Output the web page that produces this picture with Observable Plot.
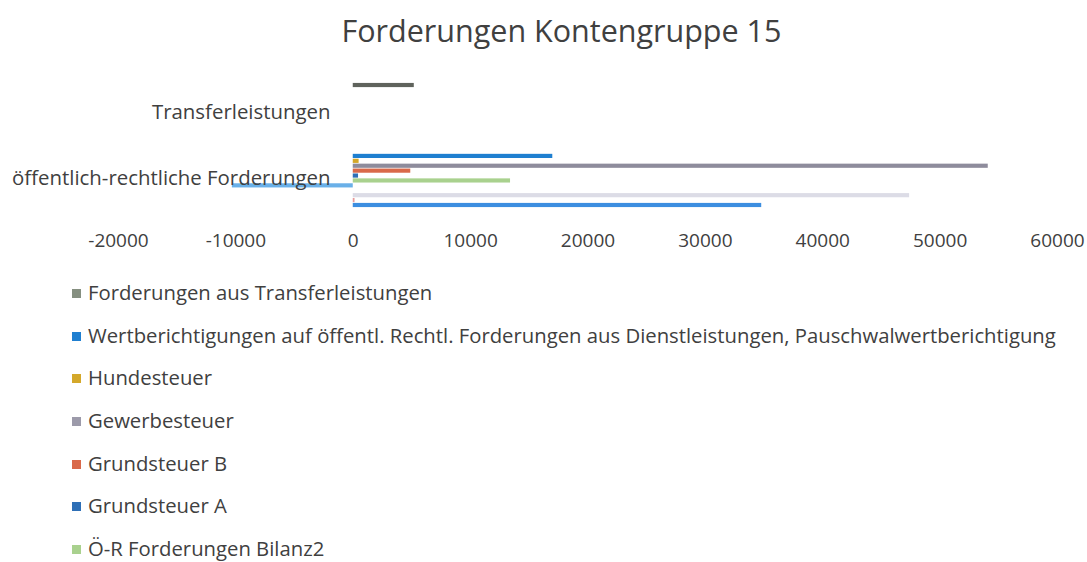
<!DOCTYPE html>
<html>
<head>
<meta charset="utf-8">
<script src="https://cdn.jsdelivr.net/npm/d3@7"></script>
<script src="https://cdn.jsdelivr.net/npm/@observablehq/plot@0.6"></script>
<style>
  html, body { margin: 0; padding: 0; background: #fff; }
  body { width: 1087px; height: 562px; overflow: hidden; font-family: "Open Sans", sans-serif; color: #404040; }
  #title { height: 60px; text-align: center; font-size: 30.5px; line-height: 60px; color: #404040; padding-left: 36px; box-sizing: border-box; }
  #legend { margin-top: 11px; padding-left: 72px; }
  .item { height: 42.7px; line-height: 42.7px; font-size: 20.3px; color: #404040; white-space: nowrap; }
  .sw { display: inline-block; width: 9px; height: 9px; margin-right: 7px; vertical-align: 2px; }
</style>
</head>
<body>
<div id="title">Forderungen Kontengruppe 15</div>
<div id="chart"></div>
<div id="legend"></div>
<script>
// Categories (bar groups)
const categories = ["Transferleistungen", "öffentlich-rechtliche Forderungen"];

// Series (legend in the reference is cut off after the 7th entry)
const seriesNames = [
  "Forderungen aus Transferleistungen",
  "Wertberichtigungen auf öffentl. Rechtl. Forderungen aus Dienstleistungen, Pauschwalwertberichtigung",
  "Hundesteuer",
  "Gewerbesteuer",
  "Grundsteuer B",
  "Grundsteuer A",
  "Ö-R Forderungen Bilanz2",
  "Reihe 8",
  "Reihe 9",
  "Reihe 10",
  "Reihe 11",
  "Reihe 12"
];
const legendCount = 7;

// Values per category, in series order
const valuesTransferleistungen = [5200, 0, 0, 0, 0, 0, 0, 0, 0, 0, 0, 0];
const valuesOeffentlich = [0, 17000, 500, 54100, 4900, 450, 13400, -10300, 0, 47400, 150, 34800];

const seriesColors = ["#5f635c", "#1f7fd0", "#d4a82a", "#8e8c9c", "#d9694a", "#2e6fb6",
                      "#a9d18e", "#6ab0e8", "#c0c0c0", "#dcdce6", "#e89a9a", "#3c8ee0"];
const legendColors = ["#858f80", "#1f7fd0", "#d4a82a", "#9c9aaa", "#d9694a", "#2e6fb6", "#a9d18e"];

const xTicks = [-20000, -10000, 0, 10000, 20000, 30000, 40000, 50000, 60000];

const data = [];
seriesNames.forEach((s, i) => {
  data.push({category: categories[0], series: s, value: valuesTransferleistungen[i]});
  data.push({category: categories[1], series: s, value: valuesOeffentlich[i]});
});

const chart = Plot.plot({
  width: 1087,
  height: 200,
  marginTop: 19,
  marginBottom: 49,
  marginLeft: 118,
  marginRight: 30,
  style: {fontFamily: "Open Sans, sans-serif", fontSize: "19px", color: "#404040", background: "transparent", overflow: "visible"},
  x: {domain: [-20000, 60000], label: null},
  y: {domain: seriesNames, axis: null, paddingInner: 0.15, paddingOuter: 0.8, round: false},
  fy: {domain: categories, padding: 0, label: null, axis: null},
  color: {domain: seriesNames, range: seriesColors},
  marks: [
    Plot.barX(data, {x: "value", y: "series", fy: "category", fill: "series"}),
    Plot.axisX({ticks: xTicks, tickFormat: d => String(d), tickSize: 0, tickPadding: 22, label: null, fill: "#404040", fontSize: 19}),
    Plot.axisFy({anchor: "left", tickSize: 0, tickPadding: 0, dx: 212, label: null, fill: "#404040", fontSize: 20.4})
  ]
});
document.getElementById("chart").appendChild(chart);

const legend = document.getElementById("legend");
seriesNames.slice(0, legendCount).forEach((s, i) => {
  const div = document.createElement("div");
  div.className = "item";
  const sw = document.createElement("span");
  sw.className = "sw";
  sw.style.background = legendColors[i];
  div.appendChild(sw);
  div.appendChild(document.createTextNode(s));
  legend.appendChild(div);
});
</script>
</body>
</html>
